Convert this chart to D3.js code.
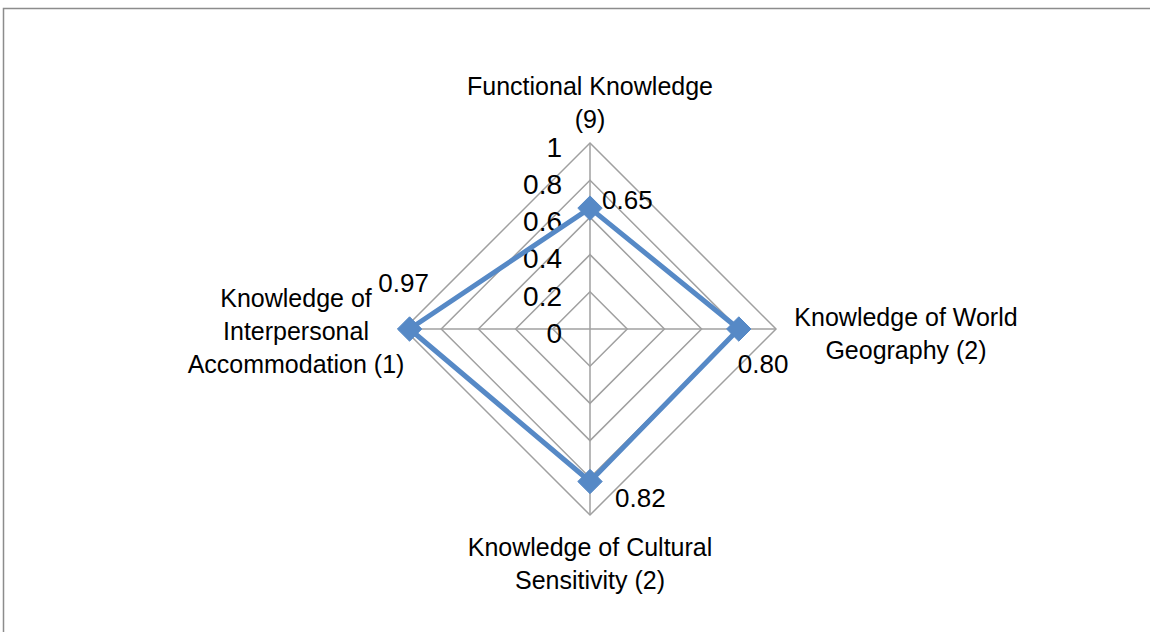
<!DOCTYPE html>
<html>
<head>
<meta charset="utf-8">
<script src="https://d3js.org/d3.v7.min.js"></script>
<style>
  body { margin: 0; background: #fff; }
  text { font-family: "Liberation Sans", Arial, sans-serif; fill: #000; }
</style>
</head>
<body>
<svg width="1150" height="632"></svg>
<script>
// chart data
var categories = [
	["Functional Knowledge", "(9)"],
	["Knowledge of World", "Geography (2)"],
	["Knowledge of Cultural", "Sensitivity (2)"],
	["Knowledge of", "Interpersonal", "Accommodation (1)"]
];
var values = [0.65, 0.80, 0.82, 0.97];
var tickValues = [0, 0.2, 0.4, 0.6, 0.8, 1];
var tickLabels = ["0", "0.2", "0.4", "0.6", "0.8", "1"];

var svg = d3.select("svg"),
	width = +svg.attr("width"),
	height = +svg.attr("height"),
	cx = 590,
	cy = 329,
	radius = 186,
	blue = "#5689C6",
	grid = "#a0a0a0";

// chart area border (runs off right and bottom)
svg.append("rect")
	.attr("x", 3.5).attr("y", 8.5)
	.attr("width", 1300).attr("height", 800)
	.attr("fill", "none")
	.attr("stroke", "#8c8c8c")
	.attr("stroke-width", 1.5);

var r = d3.scaleLinear().domain([0, 1]).range([0, radius]);
var angle = d3.scaleLinear().domain([0, categories.length]).range([0, 2 * Math.PI]);

var pt = function(i, v) {
	var a = angle(i);
	return [cx + r(v) * Math.sin(a), cy - r(v) * Math.cos(a)];
};

var g = svg.append("g");

// grid rings
tickValues.filter(function(t) { return t > 0; }).forEach(function(t) {
	g.append("polygon")
		.attr("points", categories.map(function(c, i) { return pt(i, t).join(","); }).join(" "))
		.attr("fill", "none")
		.attr("stroke", grid)
		.attr("stroke-width", 1.5);
});

// spokes
categories.forEach(function(c, i) {
	var p = pt(i, 1);
	g.append("line")
		.attr("x1", cx).attr("y1", cy)
		.attr("x2", p[0]).attr("y2", p[1])
		.attr("stroke", grid)
		.attr("stroke-width", 1.5);
});

// tick labels along the top axis
g.selectAll(".tick")
	.data(tickValues)
	.enter()
	.append("text")
	.attr("class", "tick")
	.attr("x", cx - 28)
	.attr("y", function(d) { return cy - r(d) + 4; })
	.attr("dy", "0.35em")
	.attr("text-anchor", "end")
	.style("font-size", "28px")
	.text(function(d, i) { return tickLabels[i]; });

// series line
var line = d3.line().curve(d3.curveLinearClosed);
g.append("path")
	.attr("d", line(values.map(function(v, i) { return pt(i, v); })))
	.attr("fill", "none")
	.attr("stroke", blue)
	.attr("stroke-width", 5)
	.attr("stroke-linejoin", "round");

// markers
g.selectAll(".marker")
	.data(values)
	.enter()
	.append("path")
	.attr("class", "marker")
	.attr("d", d3.symbol().type(d3.symbolDiamond2).size(380))
	.attr("transform", function(d, i) { return "translate(" + pt(i, d).join(",") + ")"; })
	.attr("fill", blue)
	.attr("stroke", blue)
	.attr("stroke-width", 1);

// value labels (offset from marker)
var valueOffset = [[12, -8, "start"], [-1, 35, "start"], [25, 16, "start"], [-6, -46, "middle"]];
g.selectAll(".val")
	.data(values)
	.enter()
	.append("text")
	.attr("class", "val")
	.attr("x", function(d, i) { return pt(i, d)[0] + valueOffset[i][0]; })
	.attr("y", function(d, i) { return pt(i, d)[1] + valueOffset[i][1]; })
	.attr("dy", "0.35em")
	.attr("text-anchor", function(d, i) { return valueOffset[i][2]; })
	.style("font-size", "26px")
	.text(function(d) { return d.toFixed(2); });

// category labels
var catPos = [[0, -226], [316, 5], [0, 235], [-294, 2]];
var lh = 33;
categories.forEach(function(lines, i) {
	var x = cx + catPos[i][0],
		y0 = cy + catPos[i][1] - (lines.length - 1) * lh / 2;
	var t = g.append("text")
		.attr("text-anchor", "middle")
		.style("font-size", "25px");
	lines.forEach(function(s, j) {
		t.append("tspan")
			.attr("x", x)
			.attr("y", y0 + j * lh)
			.attr("dy", "0.35em")
			.text(s);
	});
});
</script>
</body>
</html>
